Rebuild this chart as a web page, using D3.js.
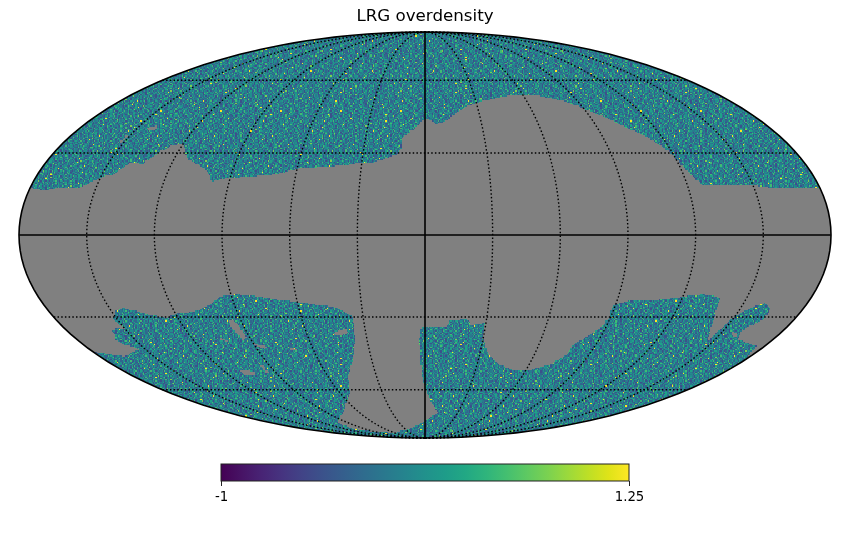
<!DOCTYPE html>
<html>
<head>
<meta charset="utf-8">
<script src="https://d3js.org/d3.v7.min.js"></script>
<style>
  body { margin: 0; background: white; }
  #map { position: relative; width: 850px; height: 540px; overflow: hidden; }
  #map canvas, #map svg { position: absolute; left: 0; top: 0; }
  text { font-family: "DejaVu Sans", sans-serif; fill: black; }
</style>
</head>
<body>
<div id="map"></div>
<script>
// colour range and bar labels
var colorDomain = [-1, 1.25];
var barTicks = [-1, 1.25];
var titleText = "LRG overdensity";

// graticule, degrees
var meridianLons = [-150, -120, -90, -60, -30, 30, 60, 90, 120, 150];
var parallelLats = [-60, -30, 30, 60];

// footprint edges as [lon, lat], lon positive to the right of centre
var northEdge = [[-180,17],[-173.7,16.2],[-166.3,17],[-157.2,17],[-153.6,18.8],[-150.1,20.7],[-144.1,22.1],[-139.9,26.2],[-133.4,25.9],[-128.7,30.4],[-124.6,33.1],[-120,33.5],[-113.1,27.4],[-106.3,25.5],[-101,22.5],[-97.8,19.2],[-91.5,20.7],[-79.6,21],[-66.1,22.5],[-58.7,24.4],[-43.3,24.7],[-31.8,26.2],[-24.7,26.2],[-13.5,29.2],[-11.3,31.9],[-11.6,35.8],[-6.2,38.9],[0,43.7],[2.7,42.9],[5.8,41.3],[10.7,42.1],[17.7,45.8],[26,49.1],[36.8,51.2],[47.1,52.5],[58.2,53.4],[68.1,53],[80.1,51.2],[88.5,48.2],[98.7,43.7],[105.4,39.7],[112.4,36.2],[118.1,31.2],[120.9,26.2],[124,21],[127.2,18.1],[139.3,17.7],[149.8,17.7],[158.6,17],[170.9,17],[180,17]];
var southEdge = [[-180,-43.7],[-172.3,-44.5],[-166.4,-45.8],[-158.4,-43.7],[-153.3,-42.9],[-155.2,-41.7],[-158.2,-40.9],[-160.6,-38.9],[-157.9,-37.3],[-157.5,-35.4],[-153.6,-34.2],[-149.5,-35],[-151.4,-32.7],[-151.6,-30.4],[-146.9,-27.4],[-143.5,-26.6],[-136.5,-28.2],[-131.5,-29.6],[-125.3,-30.4],[-119.1,-28.6],[-111.2,-28.2],[-101.5,-25.5],[-95.4,-22.5],[-87.1,-21.4],[-73.7,-22.9],[-62,-24.4],[-52.8,-25.1],[-41.8,-26.6],[-34.9,-30],[-36.3,-38.9],[-40.5,-47],[-47.8,-54.3],[-53,-61.5],[-75.6,-71.7],[-100.2,-76.9],[-107.3,-80.7],[-95.5,-83.6],[-56.3,-84.3],[-18.6,-80.7],[-2.3,-77],[12,-71.7],[6.5,-67.4],[2.2,-62.5],[-1.3,-56.5],[-3.1,-38.9],[-1.5,-33.8],[10.9,-33.8],[12.2,-31.2],[20.4,-30.8],[23.2,-33.1],[29.5,-32.3],[29.7,-37.7],[34.3,-44.1],[43.3,-49.1],[52.2,-51.2],[62.3,-51.2],[72.2,-49.1],[78,-44.9],[78.1,-40.9],[83.1,-37.7],[88,-33.8],[89.7,-30],[88.8,-25.5],[96.1,-24],[106.7,-23.6],[117.5,-22.9],[128.8,-21.4],[137.6,-22.9],[139.7,-28.6],[147.1,-39.7],[149.6,-30.4],[153.6,-27.4],[160,-24.7],[163.9,-26.6],[165.4,-29.2],[164.9,-31.5],[160.6,-33.8],[159.5,-36.2],[162.1,-38.9],[175.8,-41.3],[180,-47]];
var footprintHoles = [
  [[-96.2,-31.2],[-92.7,-31.9],[-91.6,-38.1],[-94.3,-38.9],[-96.3,-34.2]],
  [[-109.8,-51.2],[-102.1,-52.1],[-103.5,-53.8],[-110.8,-53.4]],
  [[-95.2,-49.1],[-93.5,-49.1],[-94.3,-52.5],[-96.1,-52.5]],
  [[-105.5,-38.1],[-102,-38.9],[-102.8,-39.7],[-105.6,-39.3]],
  [[-90,-40.1],[-84,-41.7],[-85.2,-42.5],[-90,-41.3]],
  [[-72,-42.1],[-68.6,-42.5],[-69.4,-43.3],[-72.6,-42.9]],
  [[-46.1,-36.2],[-39.4,-34.2],[-39,-36.2],[-44.5,-37.3]],
  [[154.9,-35.8],[157.9,-36.2],[160,-37.7],[157.9,-37.7]],
  [[-145,39.7],[-140.8,40.5],[-139.4,39.3],[-143,38.5]],
  [[-152.1,34.2],[-151.3,36.9],[-150.3,36.5],[-150.7,33.8]]
];

// overdensity levels seen in the map, and a hand typed sample of them.
// The map itself is far too fine to transcribe, so this tile is repeated over the
// footprint: it gives the look of the noise, not the real value of each pixel.
var overdensityLevels = [-0.68, -0.45, -0.27, -0.08, 0.1, 0.3, 0.55, 0.8, 1.25];
var overdensitySample = [
  "33142541326243351241534223615342147332514234425163221",
  "2415335124462135342318531243426153322415234136245314",
  "514232261534413325142654231133452671432253144235",
  "1432535124342216345532412663142235417325143346122",
  "42315341226435132451332445162231543428315246134523315",
  "3152243465124331524623415233541226143352417235413",
  "24634152313245514322651344213156327243315422163",
  "13542263341254135322461533142524163342581352243415",
  "453214236512341553422316544232141365423153324172534",
  "3261453321542633415125342241635533124263141453822",
  "2143524413365212543346215341223541436252315344",
  "5324116342255314336412253451432263514733241552364132",
  "143352246315423152834421335426113542463251344215",
  "3541423263152144532216354323415126443351224531634",
  "42153633425124173543214465233152423461325534214312",
  "2344135262415333124586143225134263145522431365",
  "135242361543322145135436242131543322614435712354253",
  "4326153412435242316533142251463345241236154221",
  "3153442216354312453284213362541423135246431522334",
  "25413324463152314432561342335124172534416323451",
  "4132536241533425146233153422461534351243261433528",
  "3245131642245335142264315312443263514541223364",
  "1536324452132436135224415336214235147352431625431",
  "243415226351344231558324136425331452163424315263",
  "52314335124642313524153326441523342165323141742",
  "34261435223145543216324533142254136423152863214335",
  "1534246133524314263415523214433165243342516231",
  "4215362344125335461322541431623354241365217342415",
  "3342516423153224436135241552343162413284531226543",
  "2514333612452341635324413522461534331425146233",
  "43132546231541332246355124234163225437315421",
  "15342236451343225136143542314263351224615334251",
  "3246152431352446153228431524332641532415336142",
  "24153342561323415443261525334124632153414352264",
  "5132443265134227154233461524331435226413524313",
  "3425162431352844123561342245331264153432215463",
  "1453326244135423162351443252136344231524316532",
  "4231553422163425314436152732451334226153412453"
];

var width = 850,
  height = 540,
  cellSize = 1.25; // apparent size of a map pixel on screen

// Mollweide, solved by bisection on 2t + sin(2t) = pi sin(lat)
function mollweideRaw(lambda, phi) {
  var target = Math.PI * Math.sin(phi),
    lo = -Math.PI / 2,
    hi = Math.PI / 2;
  for (var i = 0; i < 40; i++) {
    var t = (lo + hi) / 2;
    if (2 * t + Math.sin(2 * t) < target) lo = t;
    else hi = t;
  }
  var theta = (lo + hi) / 2;
  return [
    ((2 * Math.SQRT2) / Math.PI) * lambda * Math.cos(theta),
    Math.SQRT2 * Math.sin(theta),
  ];
}

var projection = d3
  .geoProjection(mollweideRaw)
  .scale(406 / (2 * Math.SQRT2))
  .translate([425, 235])
  .precision(0.1);

var color = d3.scaleSequential(d3.interpolateViridis).domain(colorDomain);

var wrap = d3.select("#map");
var canvas = wrap.append("canvas").attr("width", width).attr("height", height);
var svg = wrap.append("svg").attr("width", width).attr("height", height);

var ctx = canvas.node().getContext("2d", { willReadFrequently: true });
var spherePath = d3.geoPath(projection);

// the grey background of the sky
ctx.fillStyle = "#808080";
ctx.beginPath();
d3.geoPath(projection, ctx)({ type: "Sphere" });
ctx.fill();

// footprint mask: edges plus the stretch of map border that closes them
var maskCanvas = document.createElement("canvas");
maskCanvas.width = width;
maskCanvas.height = height;
var mask = maskCanvas.getContext("2d", { willReadFrequently: true });
var maskLine = d3
  .line()
  .x(function (d) {
    return projection(d)[0];
  })
  .y(function (d) {
    return projection(d)[1];
  })
  .context(mask);

function rim(lon, from, to) {
  var step = to > from ? 0.5 : -0.5;
  return d3.range(from, to + step / 2, step).map(function (lat) {
    return [lon, lat];
  });
}

var northShape = northEdge.concat(rim(180, 17, 90), rim(-180, 90, 17));
var southShape = southEdge.concat(rim(180, -47, -90), rim(-180, -90, -43.7));

mask.fillStyle = "black";
[northShape, southShape].forEach(function (shape) {
  mask.beginPath();
  maskLine(shape);
  mask.closePath();
  mask.fill();
});
mask.globalCompositeOperation = "destination-out";
footprintHoles.forEach(function (hole) {
  mask.beginPath();
  maskLine(hole);
  mask.closePath();
  mask.fill();
});

// write the sampled levels into the mask, one block per map pixel
var levelColors = overdensityLevels.map(function (v) {
  return d3.rgb(color(v));
});
var maskData = mask.getImageData(0, 0, width, height).data;
var image = ctx.getImageData(0, 0, width, height);
for (var y = 0; y < height; y++) {
  var rowIndex = Math.floor(y / cellSize);
  var row = overdensitySample[rowIndex % overdensitySample.length];
  var shift = 17 * Math.floor(rowIndex / overdensitySample.length);
  var blockY = Math.min(height - 1, Math.round((rowIndex + 0.5) * cellSize));
  for (var x = 0; x < width; x++) {
    var colIndex = Math.floor(x / cellSize);
    var blockX = Math.min(width - 1, Math.round((colIndex + 0.5) * cellSize));
    var i = (y * width + x) * 4;
    // the block centre decides, so the footprint edge stays hard and stepped
    if (maskData[(blockY * width + blockX) * 4 + 3] < 128 || image.data[i + 3] < 128) continue;
    var c = levelColors[+row[(colIndex + shift) % row.length]];
    image.data[i] = c.r;
    image.data[i + 1] = c.g;
    image.data[i + 2] = c.b;
    image.data[i + 3] = 255;
  }
}
ctx.putImageData(image, 0, 0);

// longitudes for lines of constant latitude
var alongLat = d3.range(-179.9, 180, 2).concat([179.9]);

// dotted graticule
var graticule = svg.append("g").attr("fill", "none").attr("stroke", "black");

graticule
  .selectAll(".meridian")
  .data(meridianLons)
  .enter()
  .append("path")
  .attr("class", "meridian")
  .attr("stroke-width", 1.4)
  .attr("stroke-dasharray", "1.5,2.2")
  .attr("d", function (lon) {
    return spherePath({
      type: "LineString",
      coordinates: [[lon, -90], [lon, 0], [lon, 90]],
    });
  });

graticule
  .selectAll(".parallel")
  .data(parallelLats)
  .enter()
  .append("path")
  .attr("class", "parallel")
  .attr("stroke-width", 1.4)
  .attr("stroke-dasharray", "1.5,2.2")
  .attr("d", function (lat) {
    return spherePath({
      type: "LineString",
      coordinates: alongLat.map(function (lon) {
        return [lon, lat];
      }),
    });
  });

// the two solid lines through the centre
graticule
  .append("path")
  .attr("stroke-width", 1.6)
  .attr("d", spherePath({ type: "LineString", coordinates: [[0, -90], [0, 0], [0, 90]] }));
graticule
  .append("path")
  .attr("stroke-width", 1.6)
  .attr("d", spherePath({
    type: "LineString",
    coordinates: alongLat.map(function (lon) {
      return [lon, 0];
    }),
  }));

graticule
  .append("path")
  .attr("stroke-width", 1.6)
  .attr("d", spherePath({ type: "Sphere" }));

svg
  .append("text")
  .attr("x", 425)
  .attr("y", 21)
  .attr("text-anchor", "middle")
  .style("font-size", "16.7px")
  .text(titleText);

// colour bar
var barX = d3.scaleLinear().domain(colorDomain).range([221, 629]);
var barTop = 464,
  barHeight = 17;

var gradient = svg
  .append("defs")
  .append("linearGradient")
  .attr("id", "viridis")
  .attr("x1", "0%")
  .attr("x2", "100%");
gradient
  .selectAll("stop")
  .data(d3.range(0, 1.0001, 0.05))
  .enter()
  .append("stop")
  .attr("offset", function (t) {
    return t * 100 + "%";
  })
  .attr("stop-color", function (t) {
    return d3.interpolateViridis(t);
  });

svg
  .append("rect")
  .attr("x", barX.range()[0])
  .attr("y", barTop)
  .attr("width", barX.range()[1] - barX.range()[0])
  .attr("height", barHeight)
  .attr("fill", "url(#viridis)")
  .attr("stroke", "#222")
  .attr("stroke-width", 1);

var barAxis = svg
  .append("g")
  .attr("transform", "translate(0," + (barTop + barHeight) + ")")
  .call(
    d3
      .axisBottom(barX)
      .tickValues(barTicks)
      .tickFormat(function (d) {
        return String(d);
      })
      .tickSizeOuter(0)
      .tickSize(5)
      .tickPadding(6)
  );
barAxis.select(".domain").remove();
barAxis.selectAll("line").attr("stroke", "#222");
barAxis
  .selectAll("text")
  .style("font-size", "13.3px")
  .style("font-family", '"DejaVu Sans", sans-serif');
</script>
</body>
</html>
